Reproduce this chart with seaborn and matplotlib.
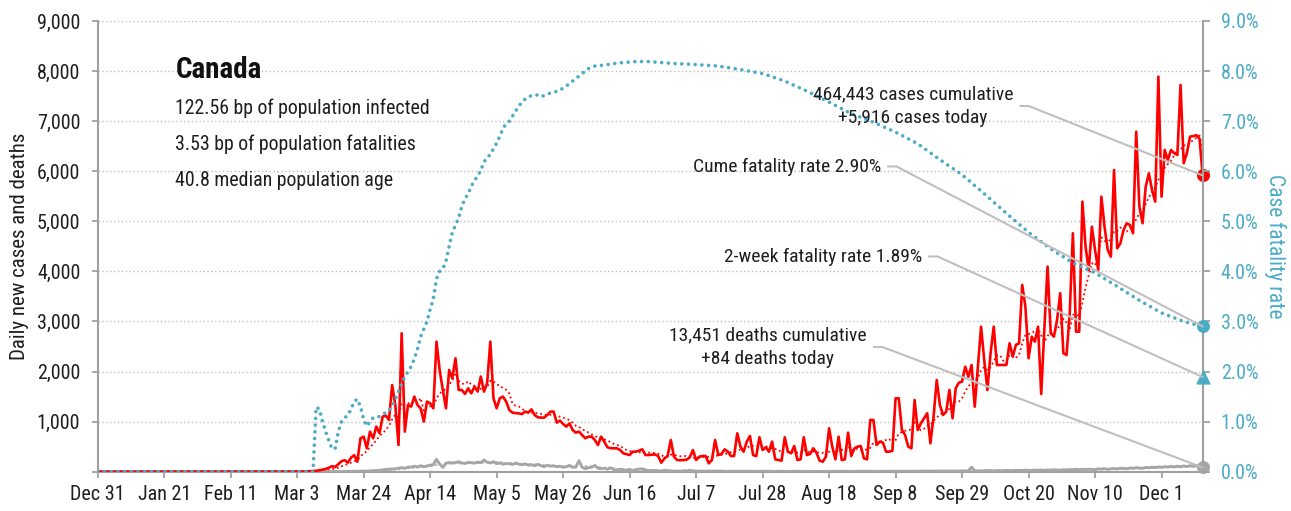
import numpy as np
import pandas as pd
import matplotlib
matplotlib.use("Agg")
import matplotlib.pyplot as plt
from matplotlib.lines import Line2D
from matplotlib import font_manager
import seaborn as sns

# ---------------------------------------------------------------- data
START = pd.Timestamp("2019-12-31")
FIRST_REPORT_DAY = 61          # 2020-03-01, first day of the daily series below

country = "Canada"
bp_infected = 122.56
bp_fatalities = 3.53
median_age = 40.8
cases_cumulative = 464443
deaths_cumulative = 13451
two_week_rate = 1.89

# daily new cases, Mar 1 - Dec 14 2020 (ten days per row)
new_cases = [
    0, 2, 3, 5, 4, 6, 10, 12, 18, 28,
    40, 55, 80, 110, 95, 150, 210, 230, 180, 280,
    330, 200, 667, 700, 467, 800, 667, 900, 767, 1100,
    1120, 1033, 1730, 1330, 533, 2764, 800, 1330, 1300, 1500,
    1330, 1266, 1000, 1400, 1366, 1266, 2597, 2031, 1632, 1266,
    2031, 1865, 2265, 1632, 1632, 1552, 1665, 1565, 1700, 1600,
    1900, 1600, 1765, 2597, 1466, 1266, 1466, 1500, 1400, 1232,
    1180, 1170, 1165, 1150, 1200, 1180, 1245, 1132, 1086, 1080,
    1080, 1132, 1200, 1200, 980, 1020, 953, 900, 966, 833,
    780, 800, 733, 667, 700, 700, 633, 533, 700, 600,
    487, 470, 467, 467, 433, 367, 350, 333, 400, 400,
    420, 447, 333, 333, 340, 345, 313, 180, 267, 313,
    633, 300, 233, 230, 233, 240, 287, 433, 233, 300,
    313, 313, 167, 233, 633, 333, 353, 447, 400, 313,
    313, 767, 500, 400, 600, 713, 333, 313, 687, 433,
    487, 400, 600, 247, 233, 220, 687, 400, 367, 513,
    233, 247, 687, 333, 353, 467, 380, 220, 200, 300,
    867, 500, 247, 700, 233, 247, 780, 313, 467, 500,
    513, 267, 247, 1033, 1033, 533, 600, 580, 400, 400,
    420, 1466, 1466, 833, 733, 500, 467, 1432, 833, 967,
    1066, 1166, 567, 1100, 1832, 1332, 1132, 1198, 1632, 1066,
    1665, 1778, 1798, 2097, 1897, 2131, 1298, 2097, 2896, 2231,
    1632, 2365, 2896, 2131, 2131, 2131, 2131, 2564, 2297, 2531,
    2564, 3729, 3296, 2265, 2696, 2597, 2896, 1552, 2864, 4095,
    2764, 2696, 3030, 3563, 2365, 2331, 3163, 4761, 2796, 2796,
    5393, 4494, 4028, 4893, 4428, 4028, 5492, 4893, 4428, 4294,
    6026, 4461, 4561, 4827, 4961, 4927, 4761, 6791, 5293, 4961,
    5692, 5960, 5626, 5393, 7889, 5492, 6425, 6225, 6425, 6359,
    6326, 7723, 6160, 6359, 6691, 6700, 6720, 6650, 5916,
]

# daily new deaths, same days
new_deaths = [
    0, 0, 0, 0, 0, 0, 0, 0, 1, 0,
    1, 0, 1, 2, 1, 3, 3, 4, 6, 5,
    6, 8, 10, 9, 12, 15, 19, 24, 26, 38,
    45, 50, 55, 58, 72, 80, 70, 90, 92, 110,
    95, 118, 100, 115, 130, 140, 247, 150, 88, 170,
    182, 175, 180, 200, 175, 165, 185, 180, 170, 190,
    180, 233, 190, 175, 200, 160, 175, 150, 165, 160,
    145, 172, 150, 140, 158, 130, 140, 120, 148, 120,
    100, 128, 110, 118, 100, 108, 90, 100, 125, 88,
    95, 220, 88, 60, 80, 90, 125, 70, 60, 70,
    50, 78, 40, 32, 50, 35, 30, 45, 25, 40,
    52, 58, 35, 22, 25, 20, 15, 12, 30, 20,
    15, 10, 12, 8, 20, 15, 25, 18, 10, 12,
    10, 8, 14, 12, 9, 10, 12, 8, 6, 10,
    9, 7, 11, 8, 6, 10, 8, 5, 9, 6,
    7, 10, 6, 5, 8, 9, 6, 7, 5, 8,
    6, 9, 5, 7, 8, 5, 6, 9, 7, 5,
    8, 6, 5, 9, 7, 6, 8, 5, 7, 9,
    6, 8, 10, 7, 5, 9, 6, 8, 7, 10,
    9, 6, 8, 11, 7, 10, 9, 12, 8, 11,
    10, 13, 9, 12, 14, 11, 10, 13, 15, 12,
    14, 11, 16, 13, 18, 90, 15, 17, 12, 20,
    18, 22, 16, 24, 20, 19, 25, 23, 21, 28,
    26, 24, 30, 27, 25, 31, 29, 33, 28, 35,
    32, 38, 34, 30, 40, 36, 42, 38, 45, 41,
    48, 44, 50, 46, 42, 55, 52, 60, 48, 58,
    62, 56, 70, 65, 58, 75, 68, 80, 72, 66,
    85, 78, 90, 82, 95, 88, 100, 92, 105, 96,
    110, 98, 115, 102, 120, 108, 118, 125, 84,
]

# cumulative case fatality rate (%), by day since Dec 31
cfr_day = [0, 68] + list(range(69, 158)) + [
    160, 163, 166, 170, 174, 178, 182, 186, 189, 196, 203, 210, 217, 224,
    231, 238, 245, 252, 259, 266, 273, 280, 287, 294, 301, 308, 315, 322,
    329, 336, 343, 349]
cfr_pct = [0.0, 0.0,
    1.29, 1.25, 1.00, 0.80, 0.62, 0.46, 0.46, 0.80, 1.00, 1.08,
    1.12, 1.25, 1.40, 1.45, 1.30, 1.04, 0.91, 1.00, 1.08, 1.10,
    1.10, 1.15, 1.18, 1.22, 1.30, 1.45, 1.60, 1.75, 1.90, 2.00,
    2.10, 2.25, 2.45, 2.70, 2.85, 3.00, 3.24, 3.45, 3.85, 4.00,
    4.05, 4.20, 4.50, 4.78, 4.92, 5.07, 5.30, 5.45, 5.55, 5.70,
    5.82, 5.90, 6.02, 6.18, 6.28, 6.33, 6.45, 6.56, 6.70, 6.85,
    6.95, 7.00, 7.10, 7.20, 7.30, 7.38, 7.44, 7.48, 7.51, 7.53,
    7.52, 7.49, 7.51, 7.54, 7.56, 7.57, 7.60, 7.62, 7.66, 7.70,
    7.75, 7.80, 7.85, 7.90, 7.95, 8.00, 8.05, 8.08, 8.10,
    8.12, 8.15, 8.17, 8.19, 8.19, 8.17, 8.15, 8.14, 8.13, 8.10,
    8.03, 7.95, 7.80, 7.60, 7.38, 7.15, 6.98, 6.78, 6.55, 6.23,
    5.93, 5.55, 5.16, 4.78, 4.45, 4.17, 3.97, 3.70, 3.42, 3.17,
    3.00, 2.90]

tick_step_days = 21
n_ticks = 17

# ---------------------------------------------------------------- frames
pre = [0] * FIRST_REPORT_DAY
cases_all = pre + new_cases
deaths_all = pre + new_deaths
dates = START + pd.to_timedelta(np.arange(len(cases_all)), unit="D")
daily = pd.DataFrame({"date": dates, "cases": cases_all, "deaths": deaths_all})
daily["cases_avg"] = daily["cases"].rolling(7, min_periods=1).mean()
daily["deaths_avg"] = daily["deaths"].rolling(7, min_periods=1).mean()
cfr = pd.DataFrame({"date": START + pd.to_timedelta(cfr_day, unit="D"), "cfr": cfr_pct})
last_date = daily["date"].iloc[-1]

# ---------------------------------------------------------------- style
sns.set_theme(style="white")
available = {f.name for f in font_manager.fontManager.ttflist}
FONT = next(n for n in ["Liberation Sans Narrow", "Roboto Condensed", "Roboto", "DejaVu Sans"]
            if n in available)
plt.rcParams["font.family"] = [FONT, "DejaVu Sans"]

RED = "#ff0000"
BLUE = "#4bacc6"
GRAY = "#a6a6a6"
AXIS = "#a0a0a0"
LEADER = "#bfbfbf"
INK = "#1e1e1e"

W, H = 1291, 511
fig = plt.figure(figsize=(W / 100, H / 100), dpi=100)
ax = fig.add_axes([97.7 / W, 39.3 / H, 1105 / W, 450.7 / H])
ax2 = ax.twinx()

# ---------------------------------------------------------------- series
sns.lineplot(data=daily, x="date", y="cases_avg", ax=ax, color=RED, linewidth=1.3,
             linestyle=(0, (1, 1.6)), estimator=None, errorbar=None, zorder=3)
sns.lineplot(data=daily, x="date", y="deaths_avg", ax=ax, color=GRAY, linewidth=1.3,
             linestyle=(0, (1, 1.6)), estimator=None, errorbar=None, zorder=3)
sns.lineplot(data=daily, x="date", y="deaths", ax=ax, color=GRAY, linewidth=2.1,
             estimator=None, errorbar=None, zorder=4)
sns.lineplot(data=daily, x="date", y="cases", ax=ax, color=RED, linewidth=1.9,
             estimator=None, errorbar=None, zorder=5)
sns.lineplot(data=cfr, x="date", y="cfr", ax=ax2, color=BLUE, linewidth=2.6,
             linestyle=(0, (0.01, 1.85)), dash_capstyle="round",
             estimator=None, errorbar=None, zorder=3)

# end-of-series markers
ax.scatter([last_date], [new_cases[-1]], s=70, color=RED, zorder=8, clip_on=False)
ax.scatter([last_date], [new_deaths[-1]], s=70, color=GRAY, zorder=8, clip_on=False)
ax2.scatter([last_date], [cfr_pct[-1]], s=70, color=BLUE, zorder=8, clip_on=False)
ax2.scatter([last_date], [two_week_rate], s=85, marker="^", color=BLUE, zorder=8,
            clip_on=False)

# ---------------------------------------------------------------- axes
ax.set_xlim(START, last_date)
ax.set_ylim(0, 9000)
ax2.set_ylim(0, 9)

tick_dates = [START + pd.Timedelta(days=tick_step_days * k) for k in range(n_ticks)]
ax.set_xticks(tick_dates)
ax.set_xticklabels([f"{d:%b} {d.day}" for d in tick_dates])

yt = list(range(0, 9001, 1000))
ax.set_yticks(yt)
ax.set_yticklabels(["" if v == 0 else f"{v:,}" for v in yt])
pt = list(range(0, 10))
ax2.set_yticks(pt)
ax2.set_yticklabels([f"{v:.1f}%" for v in pt])

for a in (ax, ax2):
    a.spines["top"].set_visible(False)
    for s in ("left", "right", "bottom"):
        a.spines[s].set_color(AXIS)
        a.spines[s].set_linewidth(1.5)
    a.set_xlabel("")
ax.spines["right"].set_visible(False)
ax2.spines["left"].set_visible(False)
ax2.spines["bottom"].set_visible(False)

ax.tick_params(axis="x", direction="out", length=4.5, width=1.3, color=AXIS,
               labelsize=14.5, labelcolor=INK, pad=5, bottom=True)
ax.tick_params(axis="y", direction="out", length=4.5, width=1.3, color=AXIS,
               labelsize=14.5, labelcolor=INK, pad=8, left=True)
ax2.tick_params(axis="y", direction="out", length=5, width=1.3, color=AXIS,
                labelsize=14.5, labelcolor=BLUE, pad=8, right=True)

ax.yaxis.grid(True, linestyle=(0, (1, 1.8)), color="#bdbdbd", linewidth=1.0)
ax.xaxis.grid(False)
ax2.grid(False)
ax.set_axisbelow(True)

ax.set_ylabel("Daily new cases and deaths", fontsize=15, color=INK,
              rotation=90, ha="center", va="center", rotation_mode="default")
ax.yaxis.set_label_coords((19.7 - 97.7) / 1105, 0.5)
ax2.set_ylabel("Case fatality rate", fontsize=15.5, color=BLUE,
               rotation=270, ha="center", va="center", rotation_mode="default")
ax2.yaxis.set_label_coords((1275 - 97.7) / 1105, 0.5)


# ---------------------------------------------------------------- text
def fx(px):
    return px / W


def fy(py):
    return 1 - py / H


fig.text(fx(176), fy(77.5), country, fontsize=21, weight="bold", color="#111111",
         va="baseline")
stats = [f"{bp_infected:.2f} bp of population infected",
         f"{bp_fatalities:.2f} bp of population fatalities",
         f"{median_age:.1f} median population age"]
for line, base in zip(stats, [114, 150, 185.5]):
    fig.text(fx(175), fy(base), line, fontsize=14.3, color=INK, va="baseline")

cases_today = new_cases[-1]
deaths_today = new_deaths[-1]
notes = [
    # (lines, anchor x, alignment, baselines, target axis, target value)
    ([f"{cases_cumulative:,} cases cumulative", f"+{cases_today:,} cases today"],
     913, "center", [99, 123], ax, cases_today),
    ([f"Cume fatality rate {cfr_pct[-1]:.2f}%"], 881, "right", [171.5], ax2, cfr_pct[-1]),
    ([f"2-week fatality rate {two_week_rate:.2f}%"], 922, "right", [261.5], ax2,
     two_week_rate),
    ([f"{deaths_cumulative:,} deaths cumulative", f"+{deaths_today:,} deaths today"],
     768, "center", [340, 364], ax, deaths_today),
]
placed = []
for lines, x, ha, bases, tax, val in notes:
    objs = [fig.text(fx(x), fy(b), s, fontsize=14, color=INK, ha=ha, va="baseline")
            for s, b in zip(lines, bases)]
    placed.append((objs, tax, val))

fig.canvas.draw()
renderer = fig.canvas.get_renderer()
to_fig = fig.transFigure.inverted()
for objs, tax, val in placed:
    boxes = [o.get_window_extent(renderer) for o in objs]
    x0 = max(b.x1 for b in boxes) + 7
    ymid = (min(b.y0 for b in boxes) + max(b.y1 for b in boxes)) / 2
    end = tax.transData.transform((matplotlib.dates.date2num(last_date), val))
    pts = np.array([[x0, ymid], [x0 + 8.5, ymid], [end[0], end[1]]])
    pts = to_fig.transform(pts)
    fig.add_artist(Line2D(pts[:, 0], pts[:, 1], transform=fig.transFigure,
                          color=LEADER, linewidth=1.5, zorder=6))

fig.savefig("out.png", dpi=100)
